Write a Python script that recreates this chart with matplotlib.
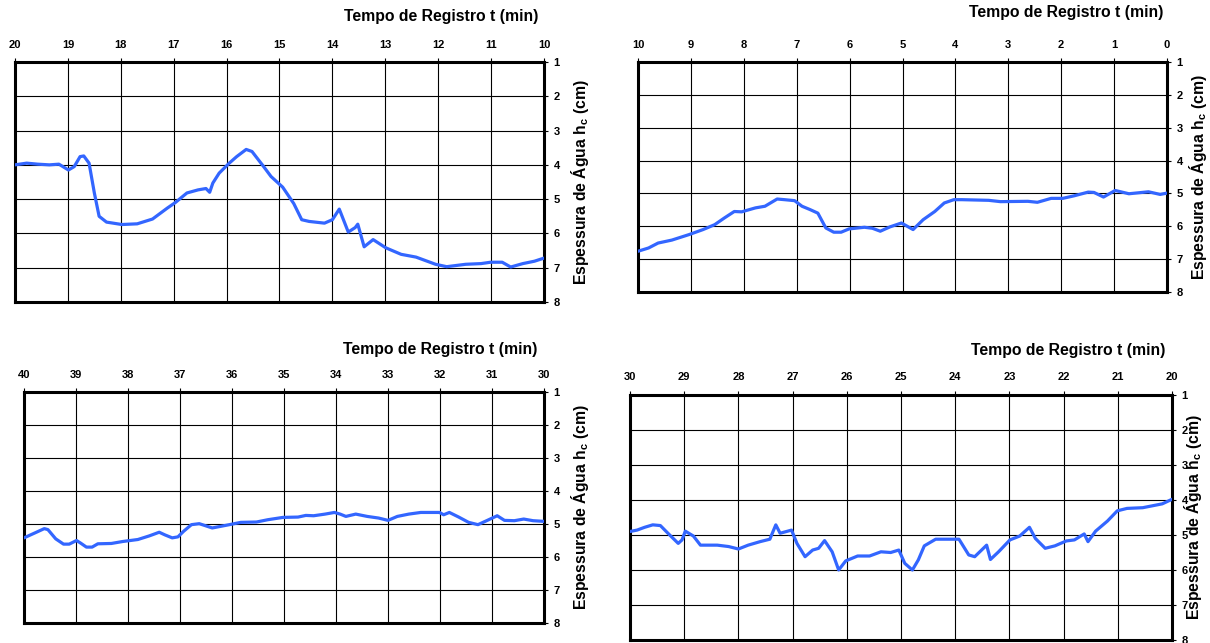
import matplotlib
matplotlib.use("Agg")
import matplotlib.pyplot as plt
import numpy as np

plt.rcParams['font.family'] = ['Liberation Sans', 'DejaVu Sans']
plt.rcParams['font.weight'] = 'bold'

# panel 1: 20 -> 10 min
t1 = [20, 19.78, 19.57, 19.35, 19.17, 18.99, 18.88, 18.77, 18.70, 18.6, 18.5, 18.41,
      18.27, 17.98, 17.69, 17.40, 17.12, 16.97, 16.75, 16.54, 16.39, 16.32, 16.26,
      16.14, 15.95, 15.81, 15.63, 15.52, 15.3, 15.16, 14.94, 14.73, 14.58, 14.44,
      14.15, 14.0, 13.87, 13.70, 13.57, 13.52, 13.40, 13.23, 12.99, 12.7, 12.42,
      12.05, 11.84, 11.48, 11.19, 11.01, 10.79, 10.63, 10.4, 10.18, 10.0]
h1 = [4.0, 3.95, 3.98, 4.0, 3.98, 4.15, 4.05, 3.76, 3.74, 3.95, 4.82, 5.5,
      5.67, 5.74, 5.72, 5.58, 5.26, 5.1, 4.82, 4.73, 4.69, 4.8, 4.53,
      4.24, 3.95, 3.76, 3.55, 3.61, 4.05, 4.34, 4.65, 5.13, 5.6, 5.65,
      5.7, 5.6, 5.29, 5.96, 5.83, 5.73, 6.39, 6.18, 6.42, 6.61, 6.69,
      6.9, 6.97, 6.9, 6.88, 6.84, 6.84, 6.98, 6.88, 6.81, 6.72]

# panel 2: 10 -> 0 min
t2 = [10, 9.8, 9.62, 9.36, 9.03, 8.77, 8.55, 8.37, 8.18, 8.04, 7.78, 7.6, 7.37,
      7.23, 7.04, 6.9, 6.75, 6.6, 6.45, 6.3, 6.16, 6.01, 5.72, 5.57, 5.42, 5.24,
      5.02, 4.91, 4.8, 4.61, 4.39, 4.21, 4.03, 3.88, 3.37, 3.15, 2.63, 2.45, 2.19,
      1.97, 1.75, 1.49, 1.38, 1.2, 0.98, 0.72, 0.35, 0.13, 0]
h2 = [6.76, 6.66, 6.51, 6.42, 6.25, 6.1, 5.95, 5.75, 5.55, 5.56, 5.44, 5.39, 5.17,
      5.19, 5.22, 5.39, 5.49, 5.6, 6.05, 6.18, 6.18, 6.08, 6.03, 6.06, 6.15, 6.02,
      5.9, 6.0, 6.1, 5.8, 5.55, 5.29, 5.19, 5.19, 5.21, 5.25, 5.24, 5.27, 5.15,
      5.15, 5.07, 4.96, 4.97, 5.11, 4.91, 5.01, 4.95, 5.03, 4.99]

# panel 3: 40 -> 30 min
t3 = [40, 39.79, 39.61, 39.54, 39.39, 39.24, 39.13, 38.99, 38.91, 38.80, 38.69,
      38.58, 38.32, 38.1, 37.81, 37.59, 37.4, 37.29, 37.15, 37.04, 36.93, 36.78,
      36.63, 36.38, 36.05, 35.83, 35.53, 35.31, 35.02, 34.73, 34.58, 34.43, 34.21,
      34.03, 33.92, 33.81, 33.62, 33.40, 33.18, 33.0, 32.82, 32.6, 32.37, 32.01,
      31.93, 31.82, 31.64, 31.45, 31.27, 31.09, 30.9, 30.76, 30.57, 30.39, 30.21, 30.0]
h3 = [5.42, 5.27, 5.14, 5.17, 5.45, 5.61, 5.61, 5.5, 5.58, 5.7, 5.7,
      5.6, 5.59, 5.53, 5.47, 5.36, 5.25, 5.33, 5.42, 5.39, 5.22, 5.02,
      4.99, 5.12, 5.02, 4.95, 4.94, 4.87, 4.8, 4.79, 4.74, 4.75, 4.7,
      4.65, 4.7, 4.77, 4.7, 4.77, 4.82, 4.89, 4.77, 4.7, 4.65, 4.65,
      4.72, 4.65, 4.79, 4.95, 5.02, 4.89, 4.75, 4.89, 4.9, 4.85, 4.9, 4.92]

# panel 4: 30 -> 20 min
t4 = [30, 29.87, 29.73, 29.58, 29.44, 29.3, 29.11, 29.04, 28.98, 28.83, 28.7, 28.39,
      28.18, 28.0, 27.82, 27.6, 27.42, 27.31, 27.23, 27.02, 26.92, 26.77, 26.63,
      26.52, 26.41, 26.27, 26.15, 26.02, 25.8, 25.58, 25.37, 25.19, 25.04, 24.93,
      24.79, 24.68, 24.57, 24.36, 23.93, 23.75, 23.64, 23.42, 23.35, 23.2, 22.99,
      22.81, 22.63, 22.52, 22.34, 22.16, 21.95, 21.8, 21.62, 21.55, 21.41, 21.19,
      21.01, 20.83, 20.54, 20.18, 20.0]
h4 = [4.9, 4.86, 4.78, 4.71, 4.73, 4.95, 5.24, 5.14, 4.89, 5.03, 5.29, 5.29,
      5.33, 5.4, 5.29, 5.19, 5.12, 4.71, 4.95, 4.86, 5.24, 5.62, 5.43,
      5.38, 5.16, 5.48, 6.0, 5.74, 5.6, 5.6, 5.48, 5.5, 5.43, 5.81,
      6.0, 5.71, 5.31, 5.12, 5.12, 5.57, 5.62, 5.29, 5.7, 5.48, 5.14,
      5.03, 4.78, 5.1, 5.38, 5.31, 5.17, 5.14, 4.97, 5.19, 4.89, 4.6,
      4.31, 4.24, 4.22, 4.11, 3.98]

W, H = 1210, 643
# (left, top, right, bottom) in pixels, x range, title offset, ylabel offset
panels = [
    ((15, 62, 544, 302), (20, 10), t1, h1, -6, 46, 25),
    ((638, 62, 1167, 292), (10, 0), t2, h2, -4, 49, 20),
    ((24, 392, 544, 623), (40, 30), t3, h3, -7, 43, 25),
    ((630, 395, 1172, 640), (30, 20), t4, h4, -7, 44, 10),
]

fig = plt.figure(figsize=(W / 100, H / 100), dpi=100)

for (l, t, r, b), (x0, x1), tt, hh, tdx, tdy, ydx in panels:
    ax = fig.add_axes([l / W, (H - b) / H, (r - l) / W, (b - t) / H])
    ax.plot(tt, hh, color='#3366FF', lw=2.3, solid_joinstyle='round',
            solid_capstyle='round', zorder=3)
    ax.set_xlim(x0, x1)
    ax.set_ylim(8, 1)
    ax.set_xticks(np.arange(min(x0, x1), max(x0, x1) + 1, 1))
    ax.set_yticks(np.arange(1, 9, 1))
    ax.grid(True, color='black', lw=0.8)
    ax.xaxis.tick_top()
    ax.yaxis.tick_right()
    ax.tick_params(axis='x', length=3, width=0.8, pad=6, labelsize=8)
    ax.tick_params(axis='y', length=3, width=0.8, pad=4, labelsize=8)
    for s in ax.spines.values():
        s.set_linewidth(2.2)
    ax.set_ylabel('Espessura de Água h$_\\mathregular{c}$ (cm)', fontsize=11.3,
                  fontweight='bold')
    ax.yaxis.set_label_position('right')
    ax.yaxis.set_label_coords(1 + ydx / (r - l), 0.5)
    ax.annotate('Tempo de Registro t (min)', xy=(1, 1), xycoords='axes fraction',
                xytext=(tdx * 0.72, tdy * 0.72), textcoords='offset points',
                ha='right', va='center', fontsize=11.3, fontweight='bold')

fig.savefig('out.png', dpi=100)
